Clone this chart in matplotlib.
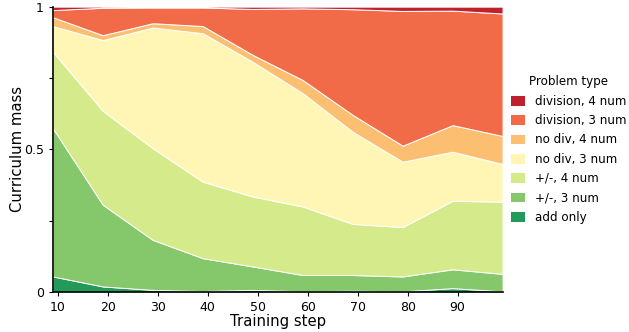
import numpy as np
import matplotlib
matplotlib.use("Agg")
import matplotlib.pyplot as plt

# training steps where the curriculum was sampled
steps = [9, 19, 29, 39, 49, 59, 69, 79, 89, 99]

labels = ["add only", "+/-, 3 num", "+/-, 4 num", "no div, 3 num",
          "no div, 4 num", "division, 3 num", "division, 4 num"]
top_add = [0.055, 0.020, 0.008, 0.004, 0.008, 0.003, 0.005, 0.003, 0.014, 0.003]
top_pm3 = [0.574, 0.306, 0.183, 0.119, 0.090, 0.060, 0.060, 0.055, 0.080, 0.064]
top_pm4 = [0.842, 0.635, 0.504, 0.387, 0.335, 0.300, 0.239, 0.228, 0.320, 0.317]
top_nd3 = [0.932, 0.883, 0.927, 0.907, 0.807, 0.697, 0.562, 0.457, 0.492, 0.449]
top_nd4 = [0.963, 0.900, 0.942, 0.932, 0.831, 0.743, 0.621, 0.513, 0.585, 0.547]
top_dv3 = [0.988, 0.996, 0.997, 0.997, 0.992, 0.994, 0.991, 0.985, 0.986, 0.976]
top_dv4 = [1.0] * 10

colors = ["#23995a", "#85c76b", "#d5eb8b", "#fff6b6",
          "#fcbe70", "#f26b48", "#c0202e"]

tops = np.array([top_add, top_pm3, top_pm4, top_nd3, top_nd4, top_dv3, top_dv4])
shares = np.diff(np.vstack([np.zeros(len(steps)), tops]), axis=0)

fig = plt.figure(figsize=(6.29, 3.32), dpi=100)
ax = fig.add_axes([0.084, 0.12, 0.715, 0.86])

ax.stackplot(steps, shares, labels=labels, colors=colors,
             edgecolor="white", linewidth=0.7)

ax.set_xlim(9, 99)
ax.set_ylim(0, 1)
ax.set_xticks([10, 20, 30, 40, 50, 60, 70, 80, 90])
ax.set_yticks([0, 0.25, 0.5, 0.75, 1])
ax.set_yticklabels(["0", "", "0.5", "", "1"])
ax.tick_params(labelsize=9, length=3)
ax.set_xlabel("Training step", fontsize=10.7, labelpad=0)
ax.set_ylabel("Curriculum mass", fontsize=10.7, labelpad=-0.5)

for s in ["top", "right"]:
    ax.spines[s].set_visible(False)
ax.spines["left"].set_linewidth(1.2)
ax.spines["bottom"].set_linewidth(1.2)

h, l = ax.get_legend_handles_labels()
ax.legend(h[::-1], l[::-1], title="Problem type", loc="center left",
          bbox_to_anchor=(0.993, 0.5), frameon=False, fontsize=8.6,
          title_fontsize=8.6, handlelength=1.25, handleheight=1.0,
          labelspacing=0.53, handletextpad=0.8)

fig.savefig("out.png", dpi=100)
